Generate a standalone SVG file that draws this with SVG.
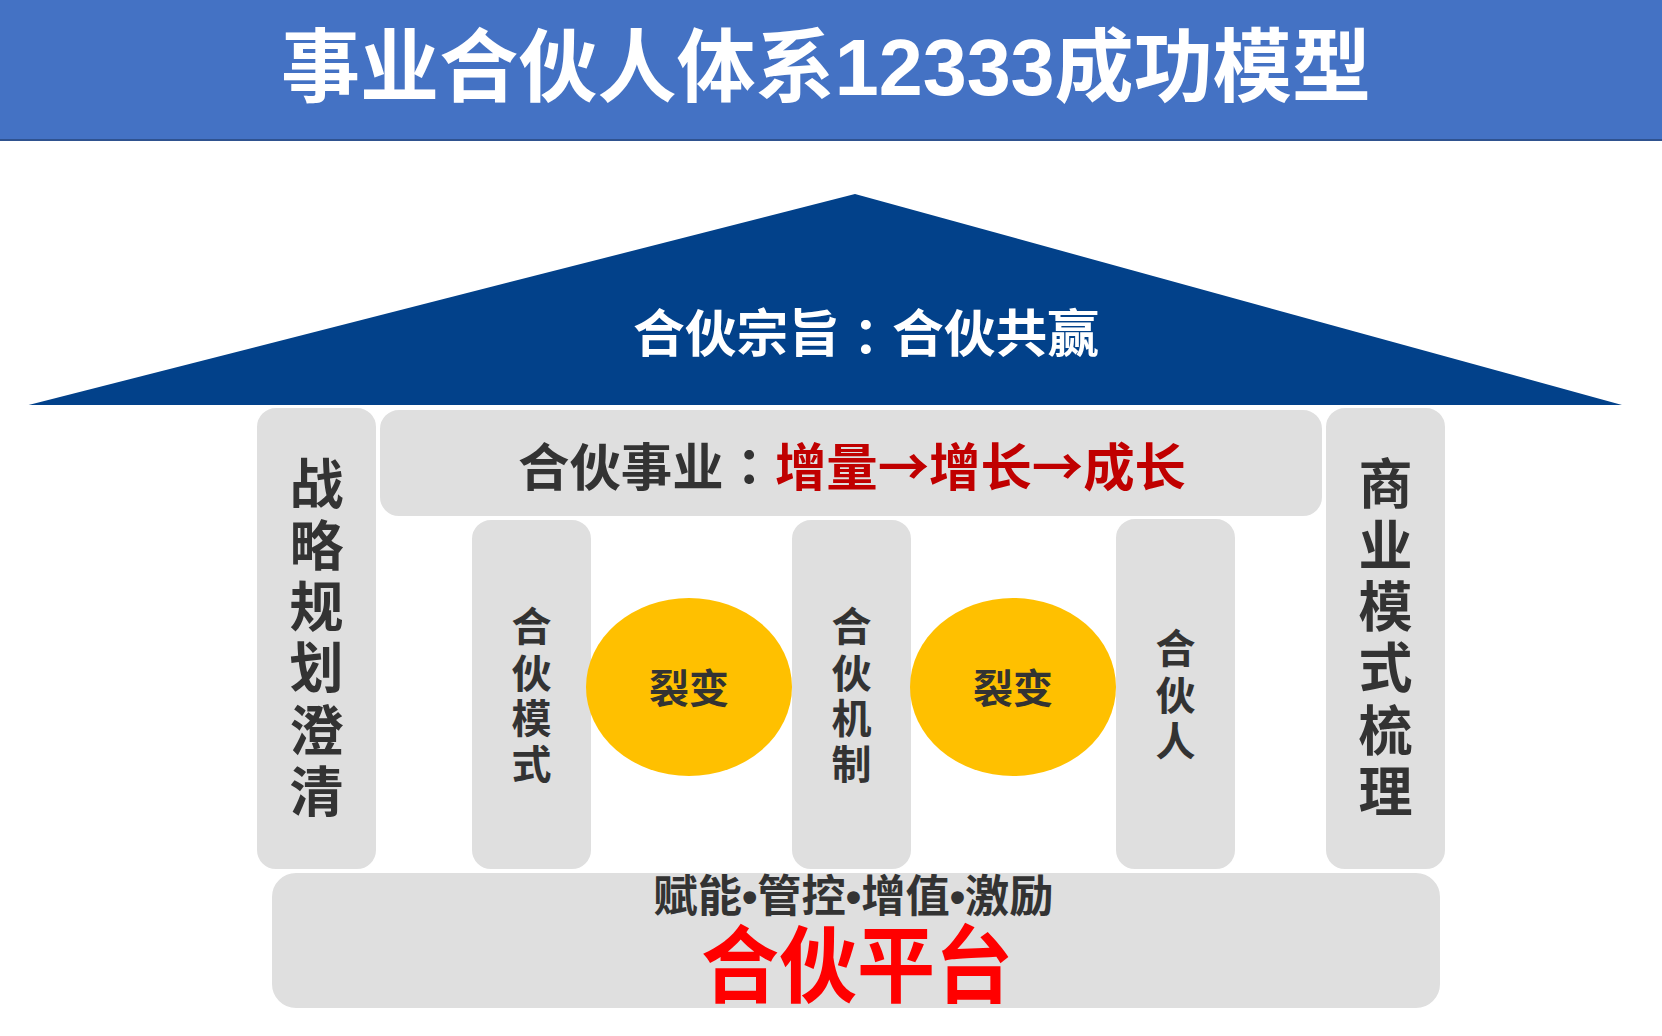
<svg xmlns="http://www.w3.org/2000/svg" width="1662" height="1036" viewBox="0 0 1662 1036">
<style>
.t{font-family:"Liberation Sans","Noto Sans CJK SC",sans-serif;font-weight:700;text-anchor:middle;dominant-baseline:central}
.cjk{font-family:"Noto Sans CJK SC",sans-serif}
.colon{font-family:"Noto Sans CJK TC",sans-serif}
.dark{fill:#333333}
.white{fill:#FFFFFF}
.box{fill:#DFDFDF;stroke:#FFFFFF;stroke-width:2}
.circ{fill:#FFC000}
</style>
<rect width="1662" height="1036" fill="#FFFFFF"/>
<g id="header">
<rect x="0" y="0" width="1662" height="140" fill="#4472C4"/>
<rect x="0" y="139" width="1662" height="2" fill="#2F528F"/>
<text class="t white" x="826" y="67" font-size="80" textLength="1090" lengthAdjust="spacingAndGlyphs">事业合伙人体系12333成功模型</text>
</g>
<g id="roof">
<polygon points="28.6,405 855,194 1622,405" fill="#02418A"/>
<text class="t white" x="866" y="334" font-size="51" textLength="466" lengthAdjust="spacingAndGlyphs">合伙宗旨<tspan class="colon">：</tspan>合伙共赢</text>
</g>
<g id="pillar-left">
<rect class="box" x="256" y="407" width="121" height="463" rx="20"/>
<g class="t dark" font-size="54">
<text x="316.5" y="485">战</text>
<text x="316.5" y="546.5">略</text>
<text x="316.5" y="607.5">规</text>
<text x="316.5" y="669">划</text>
<text x="316.5" y="731.5">澄</text>
<text x="316.5" y="793">清</text>
</g>
</g>
<g id="pillar-right">
<rect class="box" x="1325" y="407" width="121" height="463" rx="20"/>
<g class="t dark" font-size="54">
<text x="1385.5" y="485">商</text>
<text x="1385.5" y="546.5">业</text>
<text x="1385.5" y="607.5">模</text>
<text x="1385.5" y="669">式</text>
<text x="1385.5" y="731.5">梳</text>
<text x="1385.5" y="793">理</text>
</g>
</g>
<g id="top-bar">
<rect class="box" x="379" y="409" width="944" height="108" rx="20"/>
<text class="t cjk" x="852" y="464" font-size="51" textLength="668" lengthAdjust="spacingAndGlyphs"><tspan fill="#333333">合伙事业<tspan class="colon">：</tspan></tspan><tspan fill="#C00000">增量→增长→成长</tspan></text>
</g>
<g id="pillar-mode">
<rect class="box" x="471" y="519" width="121" height="351" rx="20"/>
<g class="t dark" font-size="40">
<text x="531.5" y="627">合</text>
<text x="531.5" y="673.5">伙</text>
<text x="531.5" y="719">模</text>
<text x="531.5" y="765">式</text>
</g>
</g>
<g id="pillar-mechanism">
<rect class="box" x="791" y="519" width="121" height="351" rx="20"/>
<g class="t dark" font-size="40">
<text x="851.5" y="627">合</text>
<text x="851.5" y="673.5">伙</text>
<text x="851.5" y="719">机</text>
<text x="851.5" y="765">制</text>
</g>
</g>
<g id="pillar-partner">
<rect class="box" x="1115" y="518" width="121" height="352" rx="20"/>
<g class="t dark" font-size="40">
<text x="1175.5" y="649">合</text>
<text x="1175.5" y="696">伙</text>
<text x="1175.5" y="742">人</text>
</g>
</g>
<g id="fission-1">
<ellipse class="circ" cx="689" cy="687" rx="103" ry="89"/>
<text class="t dark" x="689" y="689" font-size="40">裂变</text>
</g>
<g id="fission-2">
<ellipse class="circ" cx="1013" cy="687" rx="103" ry="89"/>
<text class="t dark" x="1013" y="689" font-size="40">裂变</text>
</g>
<g id="platform">
<rect class="box" x="271" y="872" width="1170" height="137" rx="25"/>
<text class="t dark" x="853.5" y="896" font-size="44" textLength="400" lengthAdjust="spacingAndGlyphs">赋能•管控•增值•激励</text>
<text class="t" fill="#FF0000" x="857" y="967" font-size="84" textLength="312" lengthAdjust="spacingAndGlyphs">合伙平台</text>
</g>
<g id="connectors"></g>
</svg>
